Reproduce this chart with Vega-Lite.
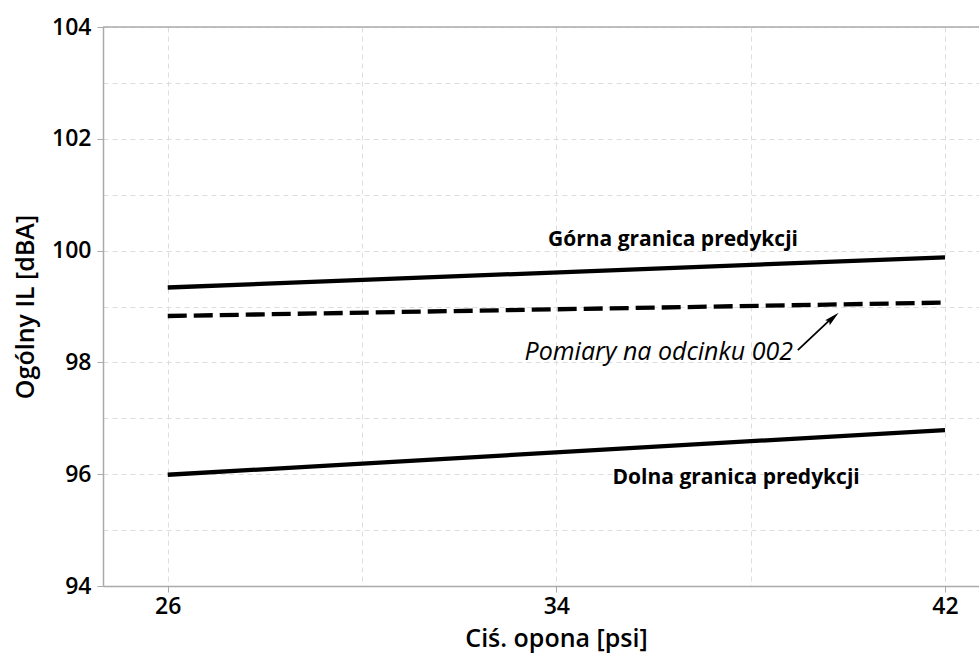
{
  "$schema": "https://vega.github.io/schema/vega-lite/v6.json",
  "autosize": {"type": "none"},
  "padding": {"left": 103, "top": 27, "right": 0, "bottom": 68},
  "width": 876,
  "height": 559,
  "background": "white",
  "config": {
    "view": {"stroke": null},
    "font": "Open Sans"
  },
  "datasets": {
    "lines": [
      {"series": "upper", "x": 26, "y": 99.34},
      {"series": "upper", "x": 42, "y": 99.88},
      {"series": "measured", "x": 26, "y": 98.83},
      {"series": "measured", "x": 42, "y": 99.07},
      {"series": "lower", "x": 26, "y": 95.99},
      {"series": "lower", "x": 42, "y": 96.79}
    ],
    "labels": [
      {"text": "Górna granica predykcji", "x": 36.4, "y": 100.19},
      {"text": "Dolna granica predykcji", "x": 37.7, "y": 95.93}
    ],
    "italic": [
      {"text": "Pomiary na odcinku 002", "x": 38.87, "y": 98.19}
    ],
    "arrow": [
      {"x": 38.97, "y": 98.22, "x2": 39.68, "y2": 98.8}
    ],
    "arrowhead": [
      {"x": 39.81, "y": 98.89}
    ],
    "top": [
      {"y": 104}
    ]
  },
  "layer": [
    {
      "data": {"name": "top"},
      "mark": {"type": "rule", "color": "#aaaaaa", "strokeWidth": 1.5},
      "encoding": {
        "y": {"field": "y", "type": "quantitative", "scale": {"domain": [94, 104]}}
      }
    },
    {
      "data": {"name": "lines"},
      "transform": [{"filter": "datum.series != 'measured'"}],
      "mark": {"type": "line", "color": "black", "strokeWidth": 4.3},
      "encoding": {
        "x": {
          "field": "x", "type": "quantitative",
          "scale": {"domain": [24.667, 42.7], "nice": false, "zero": false},
          "axis": {
            "title": "Ciś. opona [psi]",
            "values": [26, 30, 34, 38, 42],
            "labelExpr": "(datum.value == 26 || datum.value == 34 || datum.value == 42) ? datum.label : ''",
            "tickOpacity": {"condition": {"test": "datum.value == 26 || datum.value == 34 || datum.value == 42", "value": 1}, "value": 0},
            "grid": true,
            "gridColor": "#dddddd",
            "gridDash": [5, 4],
            "gridWidth": 1,
            "domainColor": "#aaaaaa",
            "domainWidth": 1.5,
            "tickColor": "#aaaaaa",
            "tickSize": 6,
            "labelFontSize": 23,
            "labelFontWeight": 600,
            "labelColor": "black",
            "labelPadding": 3,
            "titleFontSize": 25,
            "titleFontWeight": 600,
            "titleColor": "black",
            "titlePadding": 8,
            "titleX": 453
          }
        },
        "y": {
          "field": "y", "type": "quantitative",
          "scale": {"domain": [94, 104], "nice": false, "zero": false},
          "axis": {
            "title": "Ogólny IL [dBA]",
            "values": [94, 95, 96, 97, 98, 99, 100, 101, 102, 103, 104],
            "labelExpr": "datum.value % 2 == 0 ? datum.label : ''",
            "tickOpacity": {"condition": {"test": "datum.value % 2 == 0", "value": 1}, "value": 0},
            "grid": true,
            "gridColor": "#dddddd",
            "gridDash": [5, 4],
            "gridWidth": 1,
            "domainColor": "#aaaaaa",
            "domainWidth": 1.5,
            "tickColor": "#aaaaaa",
            "tickSize": 6,
            "labelFontSize": 23,
            "labelFontWeight": 600,
            "labelColor": "black",
            "labelPadding": 6,
            "titleFontSize": 25,
            "titleFontWeight": 600,
            "titleColor": "black",
            "titlePadding": 13
          }
        },
        "detail": {"field": "series"}
      }
    },
    {
      "data": {"name": "lines"},
      "transform": [{"filter": "datum.series == 'measured'"}],
      "mark": {"type": "line", "color": "black", "strokeWidth": 4.3, "strokeDash": [19, 7]},
      "encoding": {
        "x": {"field": "x", "type": "quantitative"},
        "y": {"field": "y", "type": "quantitative"}
      }
    },
    {
      "data": {"name": "labels"},
      "mark": {"type": "text", "fontSize": 21, "fontWeight": "bold", "color": "black", "align": "center", "baseline": "middle"},
      "encoding": {
        "x": {"field": "x", "type": "quantitative"},
        "y": {"field": "y", "type": "quantitative"},
        "text": {"field": "text"}
      }
    },
    {
      "data": {"name": "italic"},
      "mark": {"type": "text", "fontSize": 25, "fontStyle": "italic", "color": "black", "align": "right", "baseline": "middle"},
      "encoding": {
        "x": {"field": "x", "type": "quantitative"},
        "y": {"field": "y", "type": "quantitative"},
        "text": {"field": "text"}
      }
    },
    {
      "data": {"name": "arrow"},
      "mark": {"type": "rule", "color": "black", "strokeWidth": 1.8},
      "encoding": {
        "x": {"field": "x", "type": "quantitative"},
        "y": {"field": "y", "type": "quantitative"},
        "x2": {"field": "x2"},
        "y2": {"field": "y2"}
      }
    },
    {
      "data": {"name": "arrowhead"},
      "mark": {"type": "point", "shape": "M0,0 L-0.45,2 L0,1.7 L0.45,2 Z", "filled": true, "color": "black", "opacity": 1, "size": 225, "angle": 48},
      "encoding": {
        "x": {"field": "x", "type": "quantitative"},
        "y": {"field": "y", "type": "quantitative"}
      }
    }
  ]
}
